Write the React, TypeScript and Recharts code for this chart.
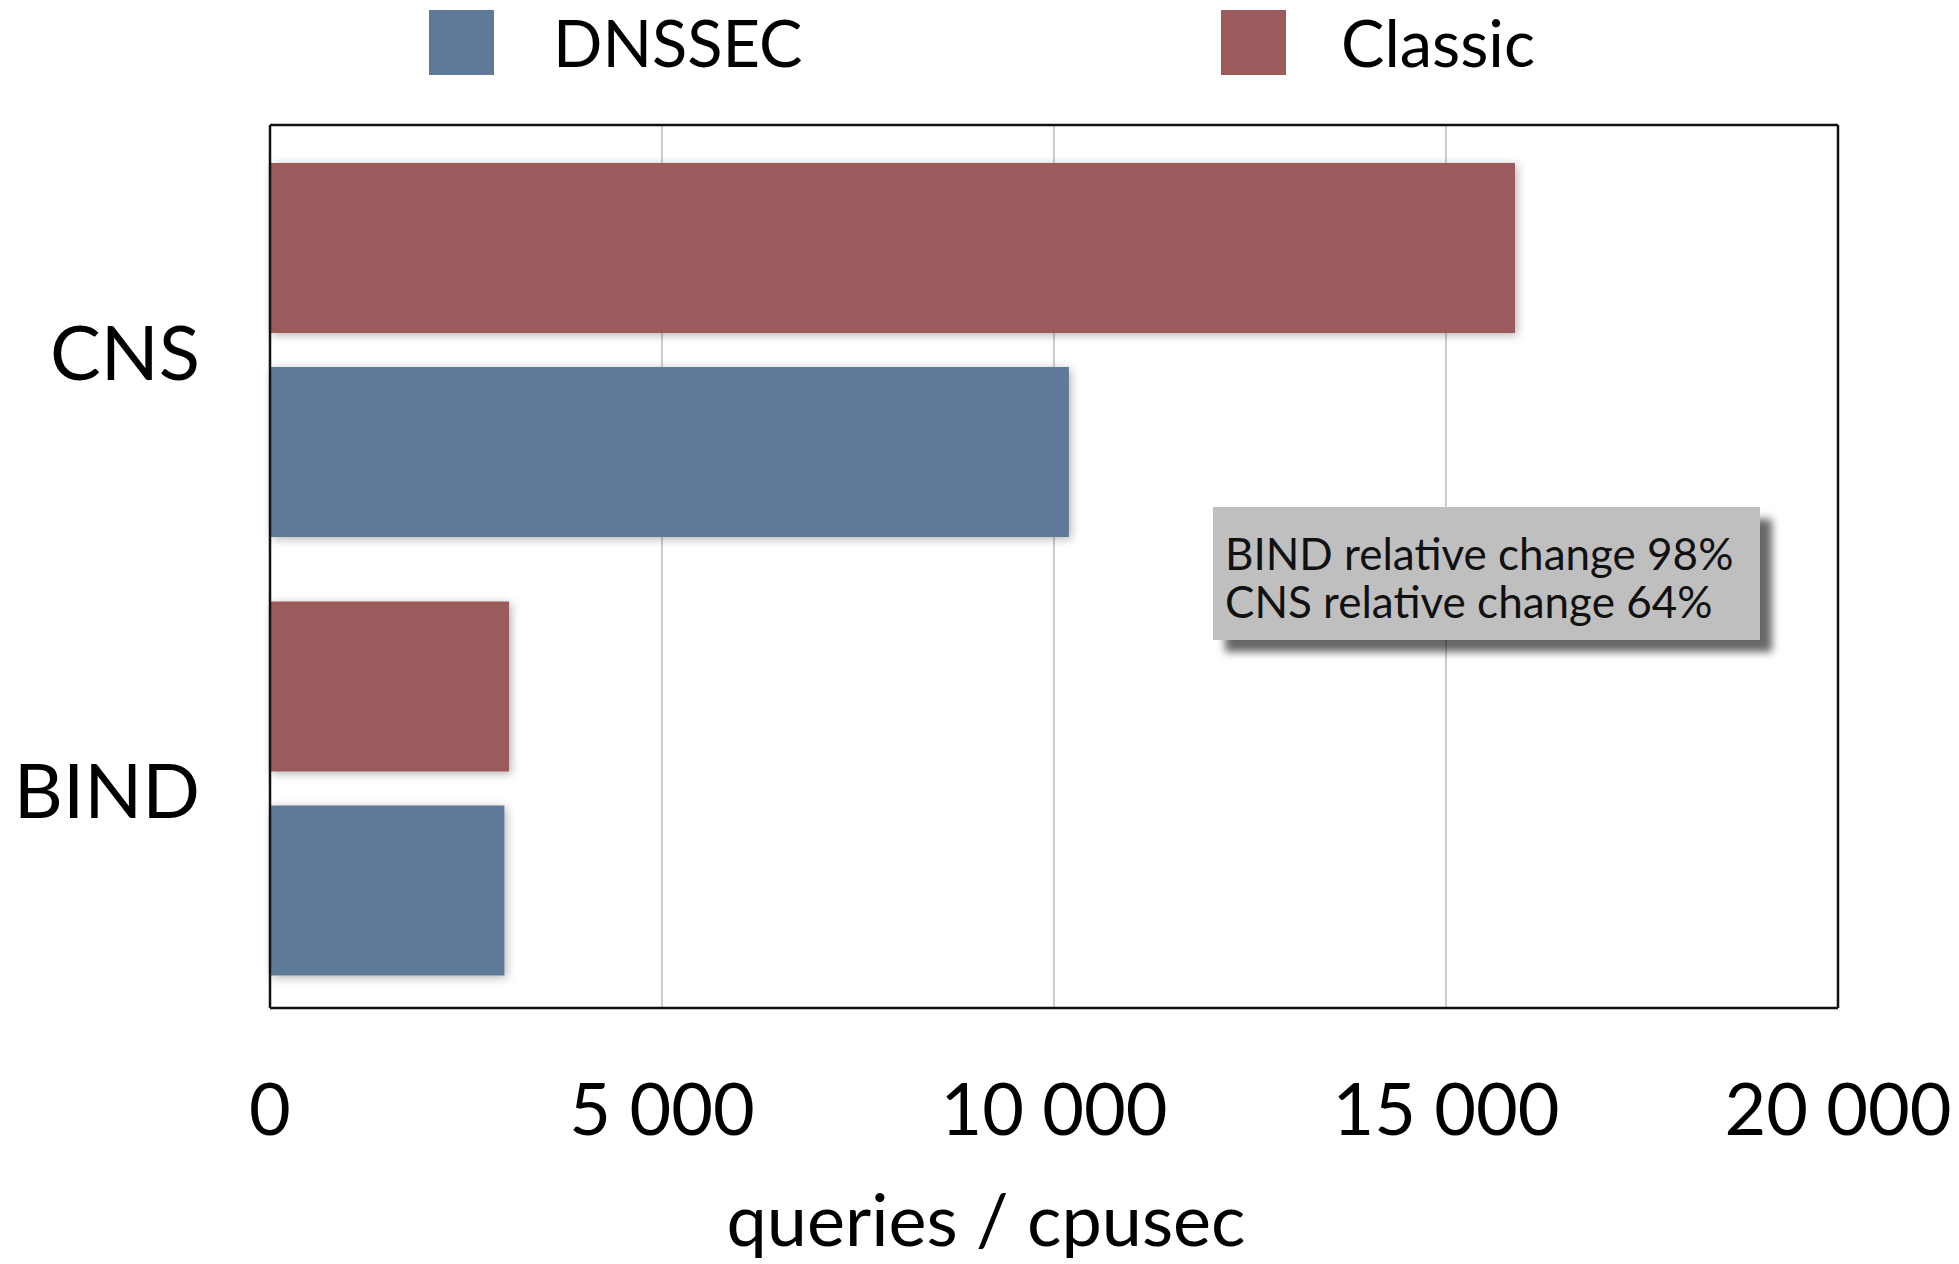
import React from 'react';
import { BarChart, Bar, XAxis, YAxis, CartesianGrid, Rectangle } from 'recharts';

const categories = ['CNS', 'BIND'];
const classicValues = [15880, 3050];
const dnssecValues = [10190, 2990];
const xTicks = [0, 5000, 10000, 15000, 20000];
const legendItems = [
  { key: 'dnssec', label: 'DNSSEC', color: '#5f7a98', square: 429, text: 553 },
  { key: 'classic', label: 'Classic', color: '#9b5a5b', square: 1221, text: 1341 },
];
const annotationLines = ['BIND relative change 98%', 'CNS relative change 64%'];
const axisTitle = 'queries / cpusec';

const data = categories.map((name, i) => ({
  name,
  classic: classicValues[i],
  dnssec: dnssecValues[i],
}));

const FONT = 'Lato, "Open Sans", sans-serif';
const fmt = (v: number) => String(v).replace(/\B(?=(\d{3})+(?!\d))/g, ' ');

const XTick = (props: any) => {
  const { x, y, payload } = props;
  return (
    <text x={x} y={y + 127} textAnchor="middle" fontSize={72} fontFamily={FONT} fill="#000">
      {fmt(payload.value)}
    </text>
  );
};

const YTick = (props: any) => {
  const { x, y, payload } = props;
  return (
    <text x={x - 70} y={y} dy="0.39em" textAnchor="end" fontSize={76} fontFamily={FONT} fill="#000">
      {payload.value}
    </text>
  );
};

const BarShape = (props: any) => (
  <Rectangle {...props} filter="url(#barShadow)" />
);

const XLabel = (props: any) => {
  const vb = props.viewBox || { x: 270, y: 1008, width: 1568, height: 256 };
  return (
    <text x={vb.x + vb.width / 2 - 68} y={vb.y + 238} textAnchor="middle" fontSize={72} fontFamily={FONT} fill="#000">
      {axisTitle}
    </text>
  );
};

export default function App() {
  return (
    <div style={{ position: 'absolute', left: 0, top: 0, width: 1959, height: 1264, background: '#fff', overflow: 'hidden' }}>
      <svg width={0} height={0} style={{ position: 'absolute' }}>
        <defs>
          <filter id="barShadow" x="-10%" y="-20%" width="125%" height="150%">
            <feDropShadow dx={2} dy={2} stdDeviation={5} floodColor="#000" floodOpacity={0.3} />
          </filter>
        </defs>
      </svg>
      <BarChart
        width={1959}
        height={1264}
        data={data}
        layout="vertical"
        margin={{ top: 124, right: 120, bottom: 0, left: 0 }}
        barSize={170}
        barGap={34}
      >
        <CartesianGrid horizontal={false} vertical stroke="#bdbdbd" strokeWidth={1.5} />
        <XAxis
          type="number"
          domain={[0, 20000]}
          ticks={xTicks}
          interval={0}
          height={256}
          tickSize={0}
          tickMargin={0}
          tickLine={false}
          axisLine={{ stroke: '#111', strokeWidth: 2.5 }}
          tick={<XTick />}
          label={<XLabel />}
        />
        <XAxis
          xAxisId="top"
          orientation="top"
          type="number"
          domain={[0, 20000]}
          height={1}
          tick={false}
          tickLine={false}
          axisLine={{ stroke: '#111', strokeWidth: 2.5 }}
        />
        <YAxis
          type="category"
          dataKey="name"
          width={270}
          padding={{ top: 6, bottom: 0 }}
          tickSize={0}
          tickMargin={0}
          tickLine={false}
          axisLine={{ stroke: '#111', strokeWidth: 2.5 }}
          tick={<YTick />}
        />
        <YAxis
          yAxisId="right"
          orientation="right"
          type="category"
          dataKey="name"
          width={1}
          tick={false}
          tickLine={false}
          axisLine={{ stroke: '#111', strokeWidth: 2.5 }}
        />
        <Bar dataKey="classic" fill="#9b5a5b" isAnimationActive={false} shape={<BarShape />} />
        <Bar dataKey="dnssec" fill="#5f7a98" isAnimationActive={false} shape={<BarShape />} />
      </BarChart>
      <svg width={1959} height={100} style={{ position: 'absolute', left: 0, top: 0 }}>
        {legendItems.map((it) => (
          <g key={it.key}>
            <rect x={it.square} y={10} width={65} height={65} fill={it.color} />
            <text x={it.text} y={67} fontSize={65} fontFamily={FONT} fill="#000">{it.label}</text>
          </g>
        ))}
      </svg>
      <div
        style={{
          position: 'absolute',
          left: 1213,
          top: 507,
          width: 547,
          height: 133,
          background: '#bfbfbf',
          boxShadow: '12px 12px 8px rgba(0,0,0,0.6)',
        }}
      >
        <svg width={547} height={133} style={{ position: 'absolute', left: 0, top: 0 }}>
          {annotationLines.map((l, i) => (
            <text key={l} x={12} y={63 + i * 48} fontSize={44} fontFamily={FONT} fill="#111">{l}</text>
          ))}
        </svg>
      </div>
    </div>
  );
}
